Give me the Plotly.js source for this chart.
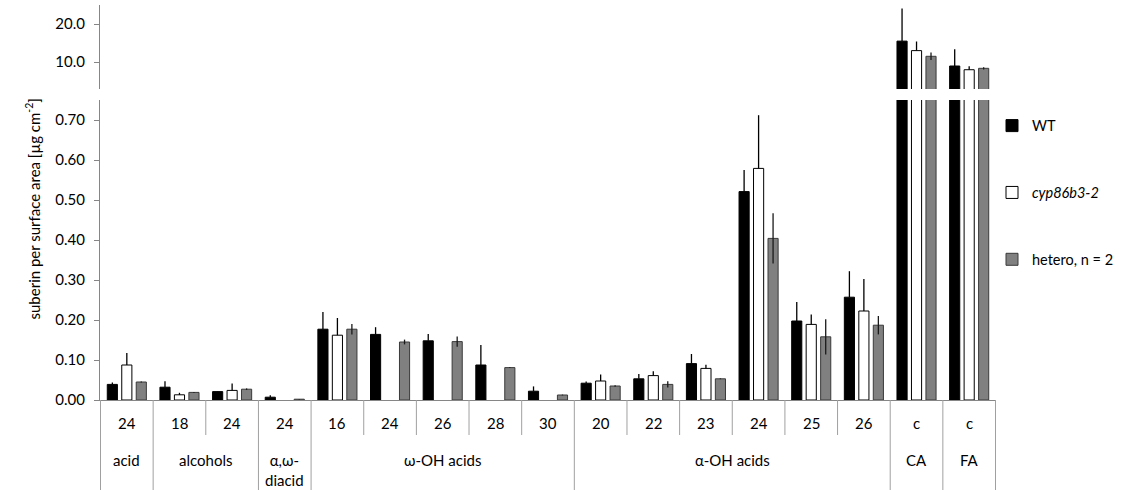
<!DOCTYPE html>
<html>
<head>
<meta charset="utf-8">
<script src="https://cdn.plot.ly/plotly-3.0.1.min.js"></script>
<style>html,body{margin:0;padding:0;background:#fff;}#chart{width:1121px;height:490px;}</style>
</head>
<body>
<div id="chart"></div>
<script>
// ---- data ----
var chainLabels = ['24','18','24','24','16','24','26','28','30','20','22','23','24','25','26','c','c'];
var groupLabels = ['acid','alcohols','alcohols','α,ω-<br>diacid','ω-OH acids','ω-OH acids','ω-OH acids','ω-OH acids','ω-OH acids',
                   'α-OH acids','α-OH acids','α-OH acids','α-OH acids','α-OH acids','α-OH acids','CA','FA'];
var wt      = [0.039,0.032,0.021,0.007,0.177,0.164,0.148,0.0875,0.022,0.042,0.053,0.091,0.521,0.1975,0.257,15.5,8.95];
var wtErr   = [0.005,0.015,0.001,0.005,0.043,0.018,0.017,0.05,0.012,0.004,0.012,0.024,0.054,0.0475,0.065,8.6,4.4];
var cyp     = [0.0875,0.013,0.024,null,0.162,null,null,null,null,0.0475,0.061,0.079,0.579,0.189,0.2225,13.0,7.97];
var cypErr  = [0.03,0.005,0.017,0,0.043,0,0,0,0,0.016,0.011,0.009,0.133,0.025,0.08,2.4,0.9];
var het     = [0.045,0.019,0.027,0.002,0.177,0.145,0.146,0.081,0.0125,0.035,0.039,0.053,0.404,0.158,0.187,11.5,8.34];
var hetErr  = [0.001,0.001,0.002,0.0005,0.013,0.006,0.013,0.001,0.001,0.002,0.008,0.001,0.063,0.044,0.023,1.0,0.3];
var seriesNames = ['WT','<i>cyp86b3-2</i>','hetero, n = 2'];

// ---- build ----
var FONT = 'Lato, "Open Sans", sans-serif';
var xCats = chainLabels.map(function(c,i){ return groupLabels[i].replace('<br>','') + ' ' + c + ' #' + i; });
var zeros = wt.map(function(){ return 0; });

var styles = [
  {fill:'#000000', line:'#000000', err:'#000000', sym:false},
  {fill:'#ffffff', line:'#000000', err:'#000000', sym:false},
  {fill:'#808080', line:'#3a3a3a', err:'#1a1a1a', sym:true}
];
var vals = [wt, cyp, het];
var errs = [wtErr, cypErr, hetErr];

var traces = [];
['y','y2'].forEach(function(ax){
  vals.forEach(function(v,k){
    var s = styles[k];
    traces.push({
      type:'bar', x:xCats, y:v, yaxis:ax, name:seriesNames[k],
      legendgroup:'g'+k, showlegend: ax==='y',
      marker:{color:s.fill, line:{color:s.line, width:1}},
      error_y:{type:'data', array:errs[k], arrayminus: s.sym ? errs[k] : zeros, symmetric:false,
               color:s.err, thickness:1.3, width:0},
      hoverinfo:'y'
    });
  });
});

// table of labels below the axis
var innerDrop = -35/395, outerDrop = -90/395;
var shapes = [], annotations = [];
var lineColor = '#a0a0a0';
for (var i = 0; i <= chainLabels.length; i++) {
  var isGroupEdge = (i === 0 || i === chainLabels.length || groupLabels[i] !== groupLabels[i-1]);
  shapes.push({type:'line', xref:'x', yref:'paper', x0:i-0.5, x1:i-0.5, y0:0, y1: isGroupEdge ? outerDrop : innerDrop,
               line:{color:lineColor, width:1}});
}
chainLabels.forEach(function(c,i){
  annotations.push({xref:'x', yref:'paper', x:i, y:-23/395, text:c, showarrow:false,
                    font:{family:FONT, size:15, color:'#000'}, yanchor:'middle'});
});
var start = 0;
for (var j = 1; j <= groupLabels.length; j++) {
  if (j === groupLabels.length || groupLabels[j] !== groupLabels[start]) {
    annotations.push({xref:'x', yref:'paper', x:(start + j - 1)/2, y:-49/395, text:groupLabels[start],
                      showarrow:false, yanchor:'top', font:{family:FONT, size:15, color:'#000'}});
    start = j;
  }
}
annotations.push({xref:'paper', yref:'paper', x:(21-100)/896, y:(400-209)/395, textangle:-90,
                  text:'suberin per surface area [µg cm<sup>-2</sup>]', showarrow:false,
                  font:{family:FONT, size:15, color:'#000'}});

var layout = {
  width:1121, height:490,
  margin:{l:100, r:125, t:5, b:90, autoexpand:false},
  paper_bgcolor:'#fff', plot_bgcolor:'#fff',
  font:{family:FONT, size:15, color:'#000'},
  barmode:'group', bargap:0.175, bargroupgap:0.3,
  showlegend:true,
  legend:{x:(992-100)/896, xanchor:'left', y:0.735, yanchor:'top', traceorder:'grouped', tracegroupgap:45,
          font:{family:FONT, size:14.5, color:'#000'}, bgcolor:'rgba(0,0,0,0)'},
  xaxis:{type:'category', showticklabels:false, ticks:'', showline:true, linecolor:'#868686', linewidth:1,
         showgrid:false, zeroline:false, fixedrange:true},
  yaxis:{domain:[0, 300/395], range:[0,0.75], dtick:0.1, tick0:0, tickformat:'.2f', showline:true,
         linecolor:'#868686', ticks:'outside', ticklen:5, tickcolor:'#868686', showgrid:false, zeroline:false,
         ticklabelstandoff:6, tickfont:{family:FONT, size:15, color:'#000'}},
  yaxis2:{domain:[(400-89)/395, 1], range:[2.9,25], tickvals:[10,20], tickformat:'.1f', showline:true,
          linecolor:'#868686', ticks:'outside', ticklen:5, tickcolor:'#868686', showgrid:false, zeroline:false,
          anchor:'x', ticklabelstandoff:6, tickfont:{family:FONT, size:15, color:'#000'}},
  shapes:shapes, annotations:annotations
};

Plotly.newPlot('chart', traces, layout, {displayModeBar:false, staticPlot:true});
</script>
</body>
</html>
